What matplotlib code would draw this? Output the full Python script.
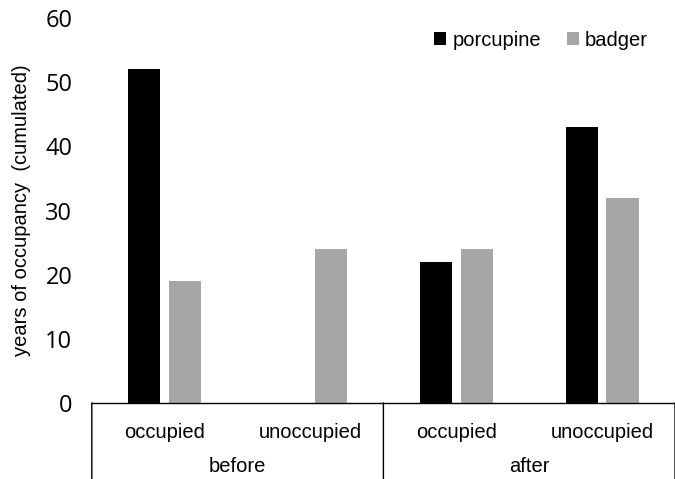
import matplotlib.pyplot as plt
import numpy as np

# Werte
categories = ['occupied', 'unoccupied', 'occupied', 'unoccupied']
groups = ['before', 'after']
porcupine = [52, 0, 22, 43]
badger = [19, 24, 24, 32]

fig = plt.figure(figsize=(6.75, 4.79), dpi=100)
ax = fig.add_axes([0.136, 0.159, 0.864, 0.803])

x = np.arange(len(categories))
w = 0.22
ax.bar(x - 0.14, porcupine, w, color='black', label='porcupine')
ax.bar(x + 0.14, badger, w, color='#a6a6a6', label='badger')

ax.set_xlim(-0.5, len(categories) - 0.5)
ax.set_ylim(0, 60)
ax.set_yticks(range(0, 61, 10))
ax.tick_params(axis='y', length=0, pad=14, labelsize=17)
for lab in ax.get_yticklabels():
    lab.set_family('Open Sans')
ax.set_xticks([])
for s in ['left', 'right', 'top']:
    ax.spines[s].set_visible(False)
ax.spines['bottom'].set_linewidth(1.0)
ax.set_ylabel('years of occupancy  (cumulated)', fontsize=14.5, labelpad=10,
              family='Liberation Sans')

# Kategorien und Gruppen unter der Achse
for xi, c in zip(x, categories):
    ax.annotate(c, (xi, 0), xytext=(0, -21), textcoords='offset points',
                ha='center', va='center', fontsize=14.5, family='Liberation Sans')
for gi, g in enumerate(groups):
    ax.annotate(g, (gi * 2 + 0.5, 0), xytext=(0, -45.5), textcoords='offset points',
                ha='center', va='center', fontsize=14.5, family='Liberation Sans')
for sx in [-0.5, 1.5, 3.5]:
    ax.annotate('', (sx, 0), xytext=(sx, -60), textcoords=('data', 'offset points'),
                arrowprops=dict(arrowstyle='-', color='black', lw=1.0,
                                shrinkA=0, shrinkB=0),
                annotation_clip=False)

ax.legend(loc='upper right', bbox_to_anchor=(0.985, 1.015), ncol=2, frameon=False,
          handlelength=0.6, handleheight=0.6, handletextpad=0.3, columnspacing=1.3,
          prop={'family': 'Liberation Sans', 'size': 14.5})

plt.savefig('out.png')
